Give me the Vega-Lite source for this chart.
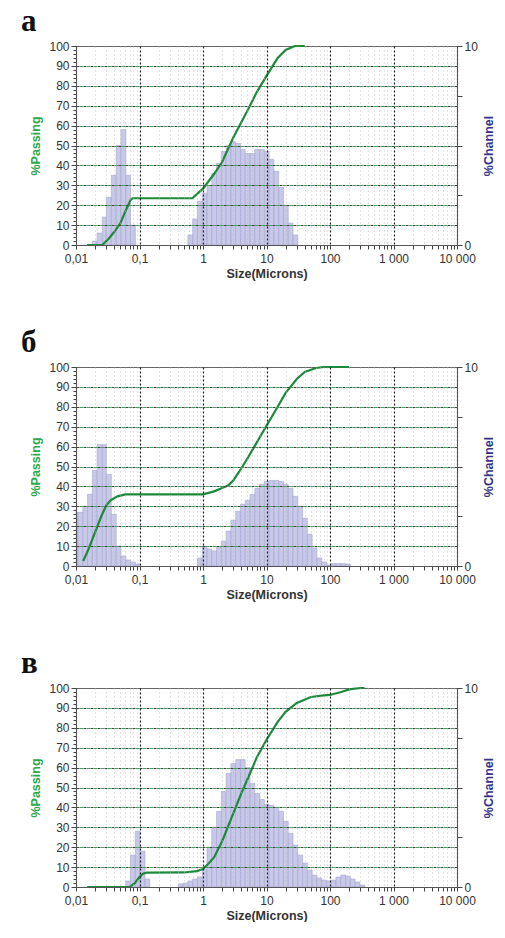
{
  "$schema": "https://vega.github.io/schema/vega-lite/v6.json",
  "padding": {"left": 20, "top": 5, "right": 0, "bottom": 0},
  "spacing": 46,
  "config": {
    "font": "Liberation Sans",
    "view": {"stroke": "#666", "strokeWidth": 1},
    "axis": {"labelFont": "Liberation Sans", "labelFontSize": 12, "labelColor": "#333", "titleFont": "Liberation Sans", "titleFontSize": 12.5, "titleFontWeight": "bold", "domainColor": "#555", "tickColor": "#444"},
    "title": {"anchor": "start", "frame": "group", "dx": -55, "font": "Liberation Serif", "fontSize": 31, "fontWeight": "bold", "color": "#111", "offset": 2}
  },
  "datasets": {
    "a_bars": [
      {"lo": 0.0181, "hi": 0.0215, "ch": 0.2}, {"lo": 0.0215, "hi": 0.026, "ch": 0.6}, {"lo": 0.026, "hi": 0.030, "ch": 1.4}, {"lo": 0.030, "hi": 0.036, "ch": 2.4}, {"lo": 0.036, "hi": 0.043, "ch": 3.5}, {"lo": 0.043, "hi": 0.051, "ch": 5.0}, {"lo": 0.051, "hi": 0.061, "ch": 5.8}, {"lo": 0.061, "hi": 0.072, "ch": 3.5}, {"lo": 0.072, "hi": 0.086, "ch": 1.0},
      {"lo": 0.578, "hi": 0.688, "ch": 0.5}, {"lo": 0.688, "hi": 0.818, "ch": 1.3}, {"lo": 0.818, "hi": 0.972, "ch": 2.2}, {"lo": 0.972, "hi": 1.156, "ch": 2.6}, {"lo": 1.156, "hi": 1.375, "ch": 3.0}, {"lo": 1.375, "hi": 1.635, "ch": 3.6}, {"lo": 1.635, "hi": 1.945, "ch": 4.1}, {"lo": 1.945, "hi": 2.312, "ch": 4.7}, {"lo": 2.312, "hi": 2.75, "ch": 5.0}, {"lo": 2.75, "hi": 3.27, "ch": 5.2}, {"lo": 3.27, "hi": 3.89, "ch": 5.1}, {"lo": 3.89, "hi": 4.62, "ch": 4.8}, {"lo": 4.62, "hi": 5.50, "ch": 4.6}, {"lo": 5.50, "hi": 6.54, "ch": 4.6}, {"lo": 6.54, "hi": 7.78, "ch": 4.8}, {"lo": 7.78, "hi": 9.25, "ch": 4.8}, {"lo": 9.25, "hi": 11.0, "ch": 4.7}, {"lo": 11.0, "hi": 13.08, "ch": 4.3}, {"lo": 13.08, "hi": 15.56, "ch": 3.7}, {"lo": 15.56, "hi": 18.5, "ch": 2.9}, {"lo": 18.5, "hi": 22.0, "ch": 2.0}, {"lo": 22.0, "hi": 26.16, "ch": 1.1}, {"lo": 26.16, "hi": 31.11, "ch": 0.5}
    ],
    "a_line": [
      {"size": 0.015, "pass": 0}, {"size": 0.026, "pass": 0}, {"size": 0.033, "pass": 3.3}, {"size": 0.042, "pass": 7.5}, {"size": 0.05, "pass": 11}, {"size": 0.06, "pass": 17}, {"size": 0.072, "pass": 22.5}, {"size": 0.078, "pass": 23.5}, {"size": 0.68, "pass": 23.5}, {"size": 1.0, "pass": 28.3}, {"size": 1.5, "pass": 35.8}, {"size": 2.0, "pass": 41.7}, {"size": 3.0, "pass": 54}, {"size": 5.0, "pass": 67.5}, {"size": 7.0, "pass": 76.7}, {"size": 10, "pass": 85}, {"size": 15, "pass": 94}, {"size": 20, "pass": 98}, {"size": 28, "pass": 100}, {"size": 40, "pass": 100}
    ],
    "b_bars": [
      {"lo": 0.0091, "hi": 0.0108, "ch": 2.7}, {"lo": 0.0108, "hi": 0.0128, "ch": 2.7}, {"lo": 0.0128, "hi": 0.0152, "ch": 3.0}, {"lo": 0.0152, "hi": 0.0181, "ch": 3.6}, {"lo": 0.0181, "hi": 0.0215, "ch": 4.8}, {"lo": 0.0215, "hi": 0.026, "ch": 6.1}, {"lo": 0.026, "hi": 0.030, "ch": 6.1}, {"lo": 0.030, "hi": 0.036, "ch": 4.6}, {"lo": 0.036, "hi": 0.043, "ch": 2.6}, {"lo": 0.043, "hi": 0.051, "ch": 1.0}, {"lo": 0.051, "hi": 0.061, "ch": 0.5}, {"lo": 0.061, "hi": 0.072, "ch": 0.3}, {"lo": 0.072, "hi": 0.086, "ch": 0.2}, {"lo": 0.086, "hi": 0.102, "ch": 0.1},
      {"lo": 0.818, "hi": 0.972, "ch": 0.4}, {"lo": 0.972, "hi": 1.156, "ch": 1.0}, {"lo": 1.156, "hi": 1.375, "ch": 0.85}, {"lo": 1.375, "hi": 1.635, "ch": 0.75}, {"lo": 1.635, "hi": 1.945, "ch": 0.95}, {"lo": 1.945, "hi": 2.312, "ch": 1.25}, {"lo": 2.312, "hi": 2.75, "ch": 1.75}, {"lo": 2.75, "hi": 3.27, "ch": 2.3}, {"lo": 3.27, "hi": 3.89, "ch": 2.75}, {"lo": 3.89, "hi": 4.62, "ch": 3.1}, {"lo": 4.62, "hi": 5.50, "ch": 3.3}, {"lo": 5.50, "hi": 6.54, "ch": 3.6}, {"lo": 6.54, "hi": 7.78, "ch": 3.9}, {"lo": 7.78, "hi": 9.25, "ch": 4.1}, {"lo": 9.25, "hi": 11.0, "ch": 4.25}, {"lo": 11.0, "hi": 13.08, "ch": 4.3}, {"lo": 13.08, "hi": 15.56, "ch": 4.3}, {"lo": 15.56, "hi": 18.5, "ch": 4.25}, {"lo": 18.5, "hi": 22.0, "ch": 4.1}, {"lo": 22.0, "hi": 26.16, "ch": 3.9}, {"lo": 26.16, "hi": 31.11, "ch": 3.5}, {"lo": 31.11, "hi": 37.0, "ch": 3.0}, {"lo": 37.0, "hi": 44.0, "ch": 2.4}, {"lo": 44.0, "hi": 52.33, "ch": 1.6}, {"lo": 52.33, "hi": 62.23, "ch": 0.9}, {"lo": 62.23, "hi": 74.0, "ch": 0.4}, {"lo": 74.0, "hi": 88.0, "ch": 0.2}, {"lo": 88.0, "hi": 104.7, "ch": 0.05},
      {"lo": 104.7, "hi": 124.5, "ch": 0.12}, {"lo": 124.5, "hi": 148.0, "ch": 0.12}, {"lo": 148.0, "hi": 176.0, "ch": 0.12}, {"lo": 176.0, "hi": 209.3, "ch": 0.1}
    ],
    "b_line": [
      {"size": 0.013, "pass": 2.5}, {"size": 0.016, "pass": 9}, {"size": 0.02, "pass": 17}, {"size": 0.025, "pass": 25}, {"size": 0.03, "pass": 30.5}, {"size": 0.035, "pass": 33}, {"size": 0.045, "pass": 35}, {"size": 0.06, "pass": 36}, {"size": 0.1, "pass": 36}, {"size": 1.0, "pass": 36}, {"size": 1.5, "pass": 37.5}, {"size": 2.5, "pass": 40.5}, {"size": 3.0, "pass": 43}, {"size": 4.0, "pass": 49}, {"size": 5.0, "pass": 54}, {"size": 7.0, "pass": 62}, {"size": 10, "pass": 70.5}, {"size": 15, "pass": 80}, {"size": 20, "pass": 87}, {"size": 30, "pass": 94}, {"size": 40, "pass": 97.5}, {"size": 60, "pass": 99.5}, {"size": 80, "pass": 100}, {"size": 200, "pass": 100}
    ],
    "c_bars": [
      {"lo": 0.061, "hi": 0.072, "ch": 0.3}, {"lo": 0.072, "hi": 0.086, "ch": 1.6}, {"lo": 0.086, "hi": 0.102, "ch": 2.8}, {"lo": 0.102, "hi": 0.122, "ch": 1.8}, {"lo": 0.122, "hi": 0.145, "ch": 0.4},
      {"lo": 0.409, "hi": 0.486, "ch": 0.15}, {"lo": 0.486, "hi": 0.578, "ch": 0.2}, {"lo": 0.578, "hi": 0.688, "ch": 0.3}, {"lo": 0.688, "hi": 0.818, "ch": 0.4}, {"lo": 0.818, "hi": 0.972, "ch": 0.5}, {"lo": 0.972, "hi": 1.156, "ch": 0.9}, {"lo": 1.156, "hi": 1.375, "ch": 2.0}, {"lo": 1.375, "hi": 1.635, "ch": 3.0}, {"lo": 1.635, "hi": 1.945, "ch": 3.8}, {"lo": 1.945, "hi": 2.312, "ch": 4.8}, {"lo": 2.312, "hi": 2.75, "ch": 5.7}, {"lo": 2.75, "hi": 3.27, "ch": 6.2}, {"lo": 3.27, "hi": 3.89, "ch": 6.4}, {"lo": 3.89, "hi": 4.62, "ch": 6.4}, {"lo": 4.62, "hi": 5.50, "ch": 6.0}, {"lo": 5.50, "hi": 6.54, "ch": 5.2}, {"lo": 6.54, "hi": 7.78, "ch": 4.7}, {"lo": 7.78, "hi": 9.25, "ch": 4.4}, {"lo": 9.25, "hi": 11.0, "ch": 4.15}, {"lo": 11.0, "hi": 13.08, "ch": 4.1}, {"lo": 13.08, "hi": 15.56, "ch": 4.0}, {"lo": 15.56, "hi": 18.5, "ch": 3.8}, {"lo": 18.5, "hi": 22.0, "ch": 3.3}, {"lo": 22.0, "hi": 26.16, "ch": 2.7}, {"lo": 26.16, "hi": 31.11, "ch": 2.1}, {"lo": 31.11, "hi": 37.0, "ch": 1.6}, {"lo": 37.0, "hi": 44.0, "ch": 1.2}, {"lo": 44.0, "hi": 52.33, "ch": 0.85}, {"lo": 52.33, "hi": 62.23, "ch": 0.6}, {"lo": 62.23, "hi": 74.0, "ch": 0.45}, {"lo": 74.0, "hi": 88.0, "ch": 0.35}, {"lo": 88.0, "hi": 104.7, "ch": 0.3}, {"lo": 104.7, "hi": 124.5, "ch": 0.35}, {"lo": 124.5, "hi": 148.0, "ch": 0.5}, {"lo": 148.0, "hi": 176.0, "ch": 0.6}, {"lo": 176.0, "hi": 209.3, "ch": 0.55}, {"lo": 209.3, "hi": 248.9, "ch": 0.4}, {"lo": 248.9, "hi": 296.0, "ch": 0.25}, {"lo": 296.0, "hi": 352.0, "ch": 0.1}
    ],
    "c_line": [
      {"size": 0.015, "pass": 0}, {"size": 0.07, "pass": 0}, {"size": 0.085, "pass": 2}, {"size": 0.1, "pass": 5}, {"size": 0.115, "pass": 6.8}, {"size": 0.13, "pass": 7.2}, {"size": 0.5, "pass": 7.3}, {"size": 0.8, "pass": 8}, {"size": 1.0, "pass": 9}, {"size": 1.2, "pass": 11.5}, {"size": 1.5, "pass": 15}, {"size": 2.0, "pass": 23}, {"size": 3.0, "pass": 37}, {"size": 4.0, "pass": 47}, {"size": 5.0, "pass": 54}, {"size": 7.0, "pass": 65}, {"size": 10, "pass": 74}, {"size": 15, "pass": 83}, {"size": 20, "pass": 88}, {"size": 30, "pass": 92.5}, {"size": 50, "pass": 95.5}, {"size": 80, "pass": 96.3}, {"size": 100, "pass": 96.5}, {"size": 150, "pass": 98}, {"size": 200, "pass": 99.3}, {"size": 300, "pass": 100}, {"size": 350, "pass": 100}
    ]
  },
  "vconcat": [
    {
      "title": {"text": "а"},
      "width": 381, "height": 199,
      "resolve": {"scale": {"y": "independent"}},
      "layer": [
        {
          "data": {"name": "a_bars"},
          "mark": {"type": "rect", "fill": "#c8c8e8", "stroke": "#a4a4d2", "strokeWidth": 0.6, "clip": true},
          "encoding": {
            "x": {"field": "lo", "type": "quantitative", "scale": {"type": "log", "domain": [0.01, 10000], "nice": false},
              "axis": {"title": "Size(Microns)", "titleColor": "#333", "titlePadding": 3, "values": [0.01,0.02,0.03,0.04,0.05,0.06,0.07,0.08,0.09,0.1,0.2,0.3,0.4,0.5,0.6,0.7,0.8,0.9,1,2,3,4,5,6,7,8,9,10,20,30,40,50,60,70,80,90,100,200,300,400,500,600,700,800,900,1000,2000,3000,4000,5000,6000,7000,8000,9000,10000],
                "labelExpr": "datum.value == 0.01 ? '0,01' : datum.value == 0.1 ? '0,1' : datum.value == 1 ? '1' : datum.value == 10 ? '10' : datum.value == 100 ? '100' : datum.value == 1000 ? '1 000' : datum.value == 10000 ? '10 000' : ''",
                "labelOverlap": false, "labelFlush": false, "labelPadding": 4, "tickSize": 4, "zindex": 1,
                "grid": true,
                "gridColor": {"condition": {"test": "indexof([0.01,0.1,1,10,100,1000,10000], datum.value) >= 0", "value": "#222"}, "value": "#b8b8b8"},
                "gridDash": {"condition": {"test": "indexof([0.01,0.1,1,10,100,1000,10000], datum.value) >= 0", "value": [2, 2]}, "value": [1, 3]},
                "gridWidth": {"condition": {"test": "indexof([0.01,0.1,1,10,100,1000,10000], datum.value) >= 0", "value": 1.2}, "value": 0.8}}},
            "x2": {"field": "hi"},
            "y": {"field": "ch", "type": "quantitative", "scale": {"domain": [0, 10], "nice": false},
              "axis": {"orient": "right", "title": "%Channel", "titleColor": "#33338a", "titleAngle": 270, "titlePadding": 18, "values": [0,1,2,2.5,3,4,5,6,7,7.5,8,9,10],
                "labelExpr": "datum.value == 0 || datum.value == 10 ? datum.value : ''", "labelOverlap": false, "tickSize": 5, "zindex": 1,
                "tickOpacity": {"condition": {"test": "datum.value % 2.5 == 0", "value": 1}, "value": 0},
                "grid": true, "gridColor": "#3aa655", "gridDash": [3, 4], "gridDashOffset": 3.5,
                "gridOpacity": {"condition": {"test": "datum.value % 1 == 0 && datum.value > 0 && datum.value < 10", "value": 1}, "value": 0}}},
            "y2": {"datum": 0}
          }
        },
        {
          "data": {"name": "a_line"},
          "mark": {"type": "line", "color": "#1d8a3b", "strokeWidth": 2.2},
          "encoding": {
            "x": {"field": "size", "type": "quantitative"},
            "y": {"field": "pass", "type": "quantitative", "scale": {"domain": [0, 100], "nice": false},
              "axis": {"orient": "left", "title": "%Passing", "titleColor": "#2aa84a", "titlePadding": 6, "values": [0,2,4,6,8,10,12,14,16,18,20,22,24,26,28,30,32,34,36,38,40,42,44,46,48,50,52,54,56,58,60,62,64,66,68,70,72,74,76,78,80,82,84,86,88,90,92,94,96,98,100],
                "labelExpr": "datum.value % 10 == 0 ? datum.value : ''", "labelOverlap": false, "zindex": 1,
                "tickSize": {"condition": {"test": "datum.value % 10 == 0", "value": 5}, "value": 3},
                "grid": true, "gridColor": "#444", "gridDash": [3, 4],
                "gridOpacity": {"condition": {"test": "datum.value % 10 == 0 && datum.value > 0 && datum.value < 100", "value": 1}, "value": 0}}}
          }
        }
      ]
    },
    {
      "title": {"text": "б"},
      "width": 381, "height": 199,
      "resolve": {"scale": {"y": "independent"}},
      "layer": [
        {
          "data": {"name": "b_bars"},
          "mark": {"type": "rect", "fill": "#c8c8e8", "stroke": "#a4a4d2", "strokeWidth": 0.6, "clip": true},
          "encoding": {
            "x": {"field": "lo", "type": "quantitative", "scale": {"type": "log", "domain": [0.01, 10000], "nice": false},
              "axis": {"title": "Size(Microns)", "titleColor": "#333", "titlePadding": 3, "values": [0.01,0.02,0.03,0.04,0.05,0.06,0.07,0.08,0.09,0.1,0.2,0.3,0.4,0.5,0.6,0.7,0.8,0.9,1,2,3,4,5,6,7,8,9,10,20,30,40,50,60,70,80,90,100,200,300,400,500,600,700,800,900,1000,2000,3000,4000,5000,6000,7000,8000,9000,10000],
                "labelExpr": "datum.value == 0.01 ? '0,01' : datum.value == 0.1 ? '0,1' : datum.value == 1 ? '1' : datum.value == 10 ? '10' : datum.value == 100 ? '100' : datum.value == 1000 ? '1 000' : datum.value == 10000 ? '10 000' : ''",
                "labelOverlap": false, "labelFlush": false, "labelPadding": 4, "tickSize": 4, "zindex": 1,
                "grid": true,
                "gridColor": {"condition": {"test": "indexof([0.01,0.1,1,10,100,1000,10000], datum.value) >= 0", "value": "#222"}, "value": "#b8b8b8"},
                "gridDash": {"condition": {"test": "indexof([0.01,0.1,1,10,100,1000,10000], datum.value) >= 0", "value": [2, 2]}, "value": [1, 3]},
                "gridWidth": {"condition": {"test": "indexof([0.01,0.1,1,10,100,1000,10000], datum.value) >= 0", "value": 1.2}, "value": 0.8}}},
            "x2": {"field": "hi"},
            "y": {"field": "ch", "type": "quantitative", "scale": {"domain": [0, 10], "nice": false},
              "axis": {"orient": "right", "title": "%Channel", "titleColor": "#33338a", "titleAngle": 270, "titlePadding": 18, "values": [0,1,2,2.5,3,4,5,6,7,7.5,8,9,10],
                "labelExpr": "datum.value == 0 || datum.value == 10 ? datum.value : ''", "labelOverlap": false, "tickSize": 5, "zindex": 1,
                "tickOpacity": {"condition": {"test": "datum.value % 2.5 == 0", "value": 1}, "value": 0},
                "grid": true, "gridColor": "#3aa655", "gridDash": [3, 4], "gridDashOffset": 3.5,
                "gridOpacity": {"condition": {"test": "datum.value % 1 == 0 && datum.value > 0 && datum.value < 10", "value": 1}, "value": 0}}},
            "y2": {"datum": 0}
          }
        },
        {
          "data": {"name": "b_line"},
          "mark": {"type": "line", "color": "#1d8a3b", "strokeWidth": 2.2},
          "encoding": {
            "x": {"field": "size", "type": "quantitative"},
            "y": {"field": "pass", "type": "quantitative", "scale": {"domain": [0, 100], "nice": false},
              "axis": {"orient": "left", "title": "%Passing", "titleColor": "#2aa84a", "titlePadding": 6, "values": [0,2,4,6,8,10,12,14,16,18,20,22,24,26,28,30,32,34,36,38,40,42,44,46,48,50,52,54,56,58,60,62,64,66,68,70,72,74,76,78,80,82,84,86,88,90,92,94,96,98,100],
                "labelExpr": "datum.value % 10 == 0 ? datum.value : ''", "labelOverlap": false, "zindex": 1,
                "tickSize": {"condition": {"test": "datum.value % 10 == 0", "value": 5}, "value": 3},
                "grid": true, "gridColor": "#444", "gridDash": [3, 4],
                "gridOpacity": {"condition": {"test": "datum.value % 10 == 0 && datum.value > 0 && datum.value < 100", "value": 1}, "value": 0}}}
          }
        }
      ]
    },
    {
      "title": {"text": "в"},
      "width": 381, "height": 199,
      "resolve": {"scale": {"y": "independent"}},
      "layer": [
        {
          "data": {"name": "c_bars"},
          "mark": {"type": "rect", "fill": "#c8c8e8", "stroke": "#a4a4d2", "strokeWidth": 0.6, "clip": true},
          "encoding": {
            "x": {"field": "lo", "type": "quantitative", "scale": {"type": "log", "domain": [0.01, 10000], "nice": false},
              "axis": {"title": "Size(Microns)", "titleColor": "#333", "titlePadding": 3, "values": [0.01,0.02,0.03,0.04,0.05,0.06,0.07,0.08,0.09,0.1,0.2,0.3,0.4,0.5,0.6,0.7,0.8,0.9,1,2,3,4,5,6,7,8,9,10,20,30,40,50,60,70,80,90,100,200,300,400,500,600,700,800,900,1000,2000,3000,4000,5000,6000,7000,8000,9000,10000],
                "labelExpr": "datum.value == 0.01 ? '0,01' : datum.value == 0.1 ? '0,1' : datum.value == 1 ? '1' : datum.value == 10 ? '10' : datum.value == 100 ? '100' : datum.value == 1000 ? '1 000' : datum.value == 10000 ? '10 000' : ''",
                "labelOverlap": false, "labelFlush": false, "labelPadding": 4, "tickSize": 4, "zindex": 1,
                "grid": true,
                "gridColor": {"condition": {"test": "indexof([0.01,0.1,1,10,100,1000,10000], datum.value) >= 0", "value": "#222"}, "value": "#b8b8b8"},
                "gridDash": {"condition": {"test": "indexof([0.01,0.1,1,10,100,1000,10000], datum.value) >= 0", "value": [2, 2]}, "value": [1, 3]},
                "gridWidth": {"condition": {"test": "indexof([0.01,0.1,1,10,100,1000,10000], datum.value) >= 0", "value": 1.2}, "value": 0.8}}},
            "x2": {"field": "hi"},
            "y": {"field": "ch", "type": "quantitative", "scale": {"domain": [0, 10], "nice": false},
              "axis": {"orient": "right", "title": "%Channel", "titleColor": "#33338a", "titleAngle": 270, "titlePadding": 18, "values": [0,1,2,2.5,3,4,5,6,7,7.5,8,9,10],
                "labelExpr": "datum.value == 0 || datum.value == 10 ? datum.value : ''", "labelOverlap": false, "tickSize": 5, "zindex": 1,
                "tickOpacity": {"condition": {"test": "datum.value % 2.5 == 0", "value": 1}, "value": 0},
                "grid": true, "gridColor": "#3aa655", "gridDash": [3, 4], "gridDashOffset": 3.5,
                "gridOpacity": {"condition": {"test": "datum.value % 1 == 0 && datum.value > 0 && datum.value < 10", "value": 1}, "value": 0}}},
            "y2": {"datum": 0}
          }
        },
        {
          "data": {"name": "c_line"},
          "mark": {"type": "line", "color": "#1d8a3b", "strokeWidth": 2.2},
          "encoding": {
            "x": {"field": "size", "type": "quantitative"},
            "y": {"field": "pass", "type": "quantitative", "scale": {"domain": [0, 100], "nice": false},
              "axis": {"orient": "left", "title": "%Passing", "titleColor": "#2aa84a", "titlePadding": 6, "values": [0,2,4,6,8,10,12,14,16,18,20,22,24,26,28,30,32,34,36,38,40,42,44,46,48,50,52,54,56,58,60,62,64,66,68,70,72,74,76,78,80,82,84,86,88,90,92,94,96,98,100],
                "labelExpr": "datum.value % 10 == 0 ? datum.value : ''", "labelOverlap": false, "zindex": 1,
                "tickSize": {"condition": {"test": "datum.value % 10 == 0", "value": 5}, "value": 3},
                "grid": true, "gridColor": "#444", "gridDash": [3, 4],
                "gridOpacity": {"condition": {"test": "datum.value % 10 == 0 && datum.value > 0 && datum.value < 100", "value": 1}, "value": 0}}}
          }
        }
      ]
    }
  ]
}
